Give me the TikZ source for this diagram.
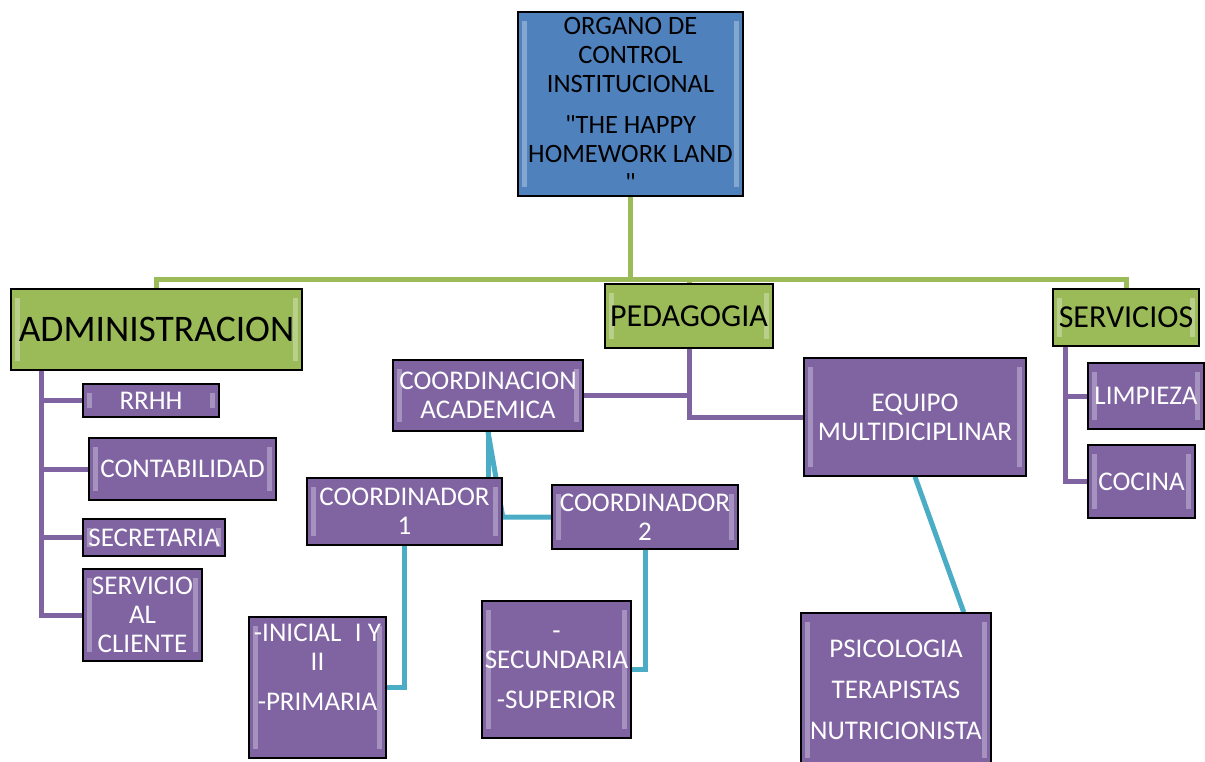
\documentclass[tikz,border=0pt]{standalone}
\usepackage{fontspec}
\setmainfont{Carlito}[Ligatures=TeXOff]
\usepackage{xcolor}
\usepackage{tikz}
\usetikzlibrary{calc}
\definecolor{orgblue}{HTML}{4F81BD}
\definecolor{orggreen}{HTML}{9BBB59}
\definecolor{orgpurple}{HTML}{8064A2}
\definecolor{orgcyan}{HTML}{4BACC6}
\pgfdeclarelayer{background}
\pgfsetlayers{background,main}

\begin{document}
\begin{tikzpicture}[x=1pt, y=-1pt,
    bevel/.style={path picture={
        \fill[white, opacity=.3] ([shift={(4pt,-9pt)}]path picture bounding box.north west)
            rectangle ([shift={(9pt,9pt)}]path picture bounding box.south west);
        \fill[white, opacity=.3] ([shift={(-9pt,-9pt)}]path picture bounding box.north east)
            rectangle ([shift={(-4pt,9pt)}]path picture bounding box.south east);
    }},
    box/.style={draw=black, line width=1.5pt, align=center, inner sep=0pt, bevel},
    headbox/.style={box, fill=orgblue, font=\fontsize{26.5}{29}\selectfont},
    areabox/.style={box, fill=orggreen},
    unitbox/.style={box, fill=orgpurple, text=white, font=\fontsize{27}{29}\selectfont},
    greenlink/.style={draw=orggreen, line width=5pt},
    purplelink/.style={draw=orgpurple, line width=5pt},
    cyanlink/.style={draw=orgcyan, line width=5pt}]
    \useasboundingbox (0,0) rectangle (1205,762);
    % Head
    \node[headbox, minimum width=225pt, minimum height=184pt] (head) at (630.5,104)
        {ORGANO DE\\CONTROL\\INSTITUCIONAL\\[12pt]"THE HAPPY\\HOMEWORK LAND\\"};
    % Areas
    \node[areabox, minimum width=291pt, minimum height=81pt, font=\fontsize{37.5}{40}\selectfont] (admin) at (156.5,329.5) {ADMINISTRACION};
    \node[areabox, minimum width=168pt, minimum height=64pt, font=\fontsize{32}{34}\selectfont] (ped) at (689,316) {PEDAGOGIA};
    \node[areabox, minimum width=146pt, minimum height=57pt, font=\fontsize{32}{34}\selectfont] (serv) at (1126,317.5) {SERVICIOS};
    % Administracion
    \node[unitbox, minimum width=136pt, minimum height=33pt] (rrhh) at (151,400.5) {RRHH};
    \node[unitbox, minimum width=187pt, minimum height=62pt] (conta) at (182.5,469) {CONTABILIDAD};
    \node[unitbox, minimum width=142pt, minimum height=37pt] (secre) at (154,537.5) {SECRETARIA};
    \node[unitbox, minimum width=119pt, minimum height=92pt] (clien) at (142.5,615) {SERVICIO\\AL\\CLIENTE};
    % Pedagogia
    \node[unitbox, minimum width=190pt, minimum height=71pt] (coordac) at (488,395.5) {COORDINACION\\ACADEMICA};
    \node[unitbox, minimum width=195pt, minimum height=67pt] (coorda) at (404.5,511.5) {COORDINADOR\\1};
    \node[unitbox, minimum width=186pt, minimum height=64pt] (coordb) at (645,517) {COORDINADOR\\2};
    \node[unitbox, minimum width=137pt, minimum height=141pt] (inicial) at (317.5,687.5) {-INICIAL\enspace I Y\\II\\[11pt]-PRIMARIA\\[11pt]\mbox{}};
    \node[unitbox, minimum width=149pt, minimum height=137pt] (secund) at (556.5,669.5) {-\\SECUNDARIA\\[11pt]-SUPERIOR};
    \node[unitbox, minimum width=222pt, minimum height=118pt] (equipo) at (915,417) {EQUIPO\\MULTIDICIPLINAR};
    \node[unitbox, minimum width=190pt, minimum height=154pt] (psico) at (896,690) {PSICOLOGIA\\[12pt]TERAPISTAS\\[12pt]NUTRICIONISTA};
    % Servicios
    \node[unitbox, minimum width=116pt, minimum height=66pt] (limp) at (1146,396) {LIMPIEZA};
    \node[unitbox, minimum width=107pt, minimum height=73pt] (cocina) at (1141.5,481.5) {COCINA};
    % Connectors
    \begin{pgfonlayer}{background}
        \coordinate (bus) at (630,279);
        \draw[greenlink] (head.south) -- (head.south |- bus);
        \draw[greenlink] (admin.north) |- (bus) -| (serv.north);
        \draw[greenlink] (ped.north) -- (ped.north |- bus);
        \draw[purplelink] ([xshift=31pt]admin.south west) |- (clien.west);
        \foreach \n in {rrhh,conta,secre}
            \draw[purplelink] ([xshift=31pt]admin.south west |- \n.west) -- (\n.west);
        \draw[purplelink] (ped.south) |- (coordac.east);
        \draw[purplelink] (ped.south) |- (equipo.west);
        \draw[purplelink] ([xshift=13pt]serv.south west) |- (cocina.west);
        \draw[purplelink] ([xshift=13pt]serv.south west |- limp.west) -- (limp.west);
        \draw[cyanlink] (coordac.south) -- (coordac.south |- coorda.north);
        \draw[cyanlink] (coordac.south) -- (coordb.west -| coorda.east) -- (coordb.west);
        \draw[cyanlink] (coorda.south) |- (inicial.east);
        \draw[cyanlink] (coordb.south) |- (secund.east);
        \draw[cyanlink] (equipo.south) -- ([xshift=-28pt]psico.north east);
    \end{pgfonlayer}
\end{tikzpicture}
\end{document}
